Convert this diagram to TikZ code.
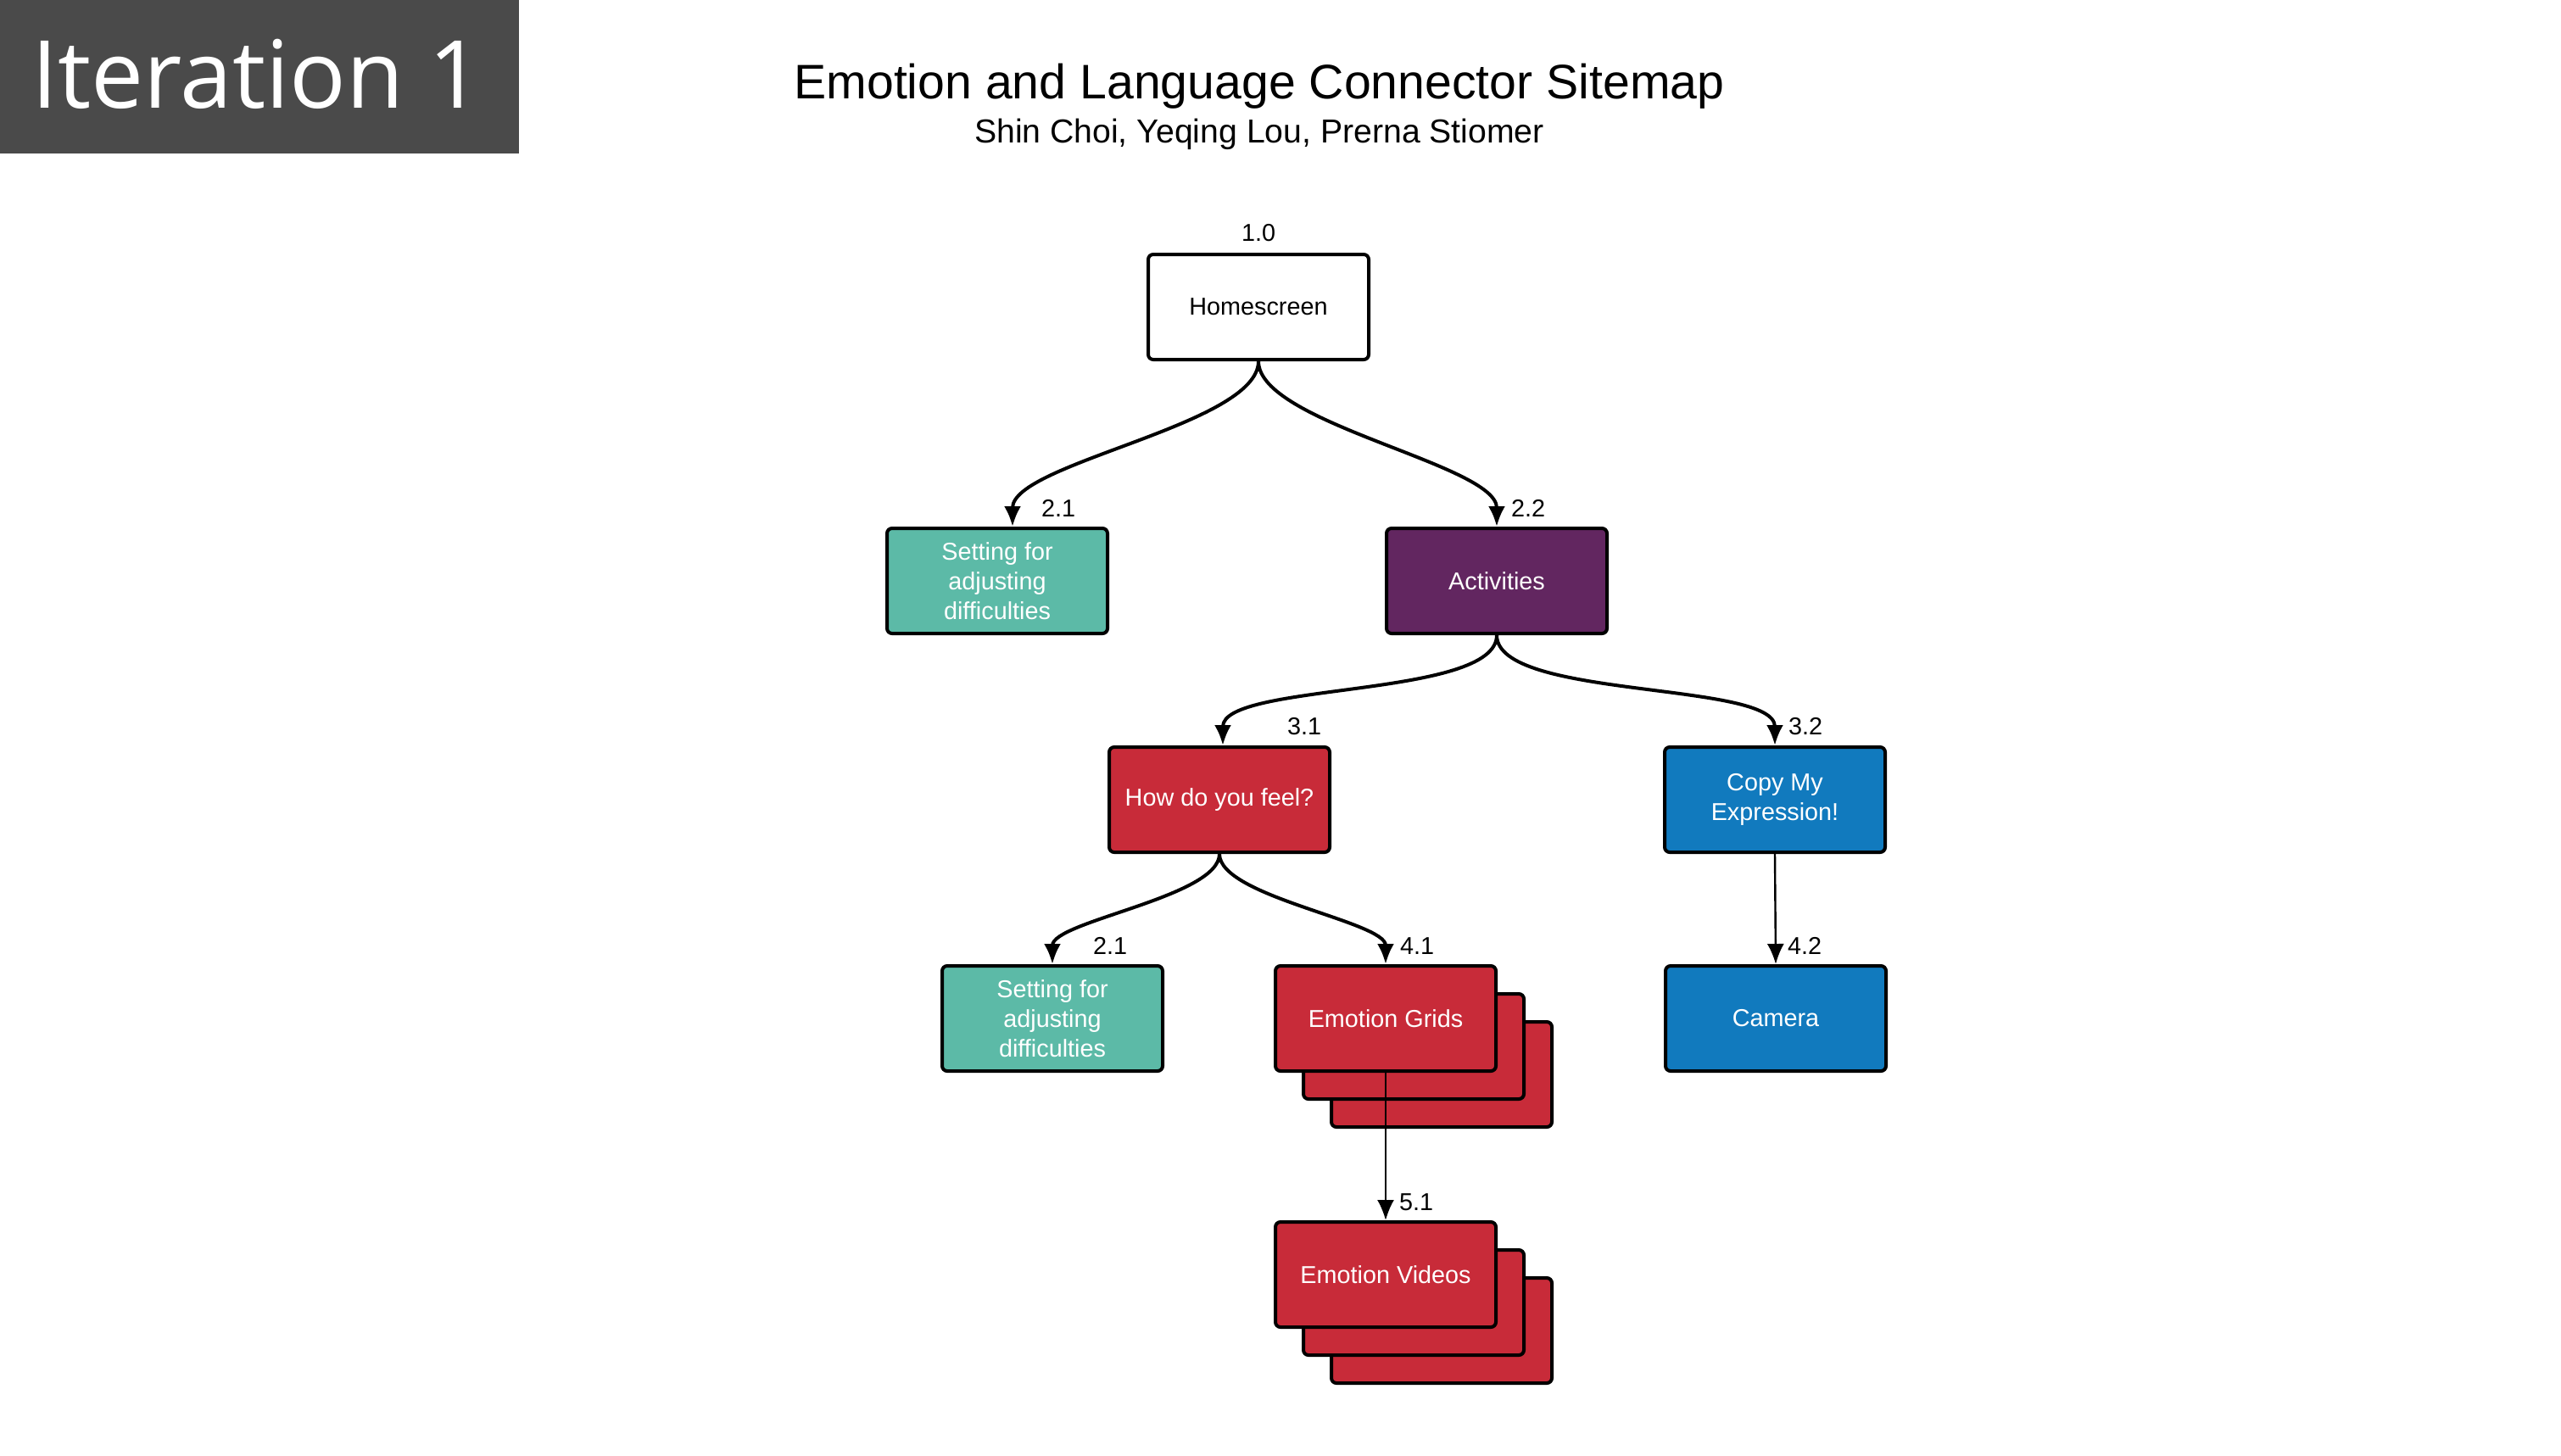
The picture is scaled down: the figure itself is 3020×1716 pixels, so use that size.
\documentclass[tikz,border=0pt]{standalone}
\usepackage{fontspec}
\setmainfont{Liberation Sans}
\newfontfamily\iterfont{Open Sans}
\usetikzlibrary{arrows.meta}

\definecolor{tealbox}{RGB}{92,186,167}
\definecolor{purplebox}{RGB}{98,38,96}
\definecolor{redbox}{RGB}{200,43,57}
\definecolor{bluebox}{RGB}{17,122,190}
\definecolor{darkgrey}{RGB}{74,74,74}

\tikzset{
  box/.style={draw=black, line width=1pt, rounded corners=1.5pt,
    minimum width=65pt, minimum height=31pt, inner sep=1pt,
    align=center, font=\fontsize{7.2}{8.7}\selectfont},
  num/.style={font=\fontsize{7.2}{8.7}\selectfont, inner sep=0pt},
  link/.style={line width=1pt, -{Latex[length=6pt,width=5pt]}},
  thinlink/.style={line width=0.6pt, -{Latex[length=6pt,width=5pt]}},
}

\begin{document}
\begin{tikzpicture}[x=0.25pt,y=0.25pt,yscale=-1]
\useasboundingbox (0,0) rectangle (3020,1716);

%Iteration tab
\fill[darkgrey] (0,0) rectangle (612,181);
\node[text=white, anchor=base, font=\iterfont\fontsize{27.7}{30}\selectfont] (iter) at (303,127) {Iteration 1};

%Title
\node[anchor=base, font=\fontsize{14.3}{17}\selectfont] (title) at (1485,116) {Emotion and Language Connector Sitemap};
\node[anchor=base, font=\fontsize{9.8}{12}\selectfont] (authors) at (1485,168) {Shin Choi, Yeqing Lou, Prerna Stiomer};

%Level 1
\node[box, fill=white] (home) at (1484,362) {Homescreen};
\node[num, anchor=south] at ([yshift=-3pt]home.north) {1.0};

%Level 2
\node[box, fill=tealbox, text=white] (setting1) at (1176,685) {Setting for\\adjusting\\difficulties};
\node[box, fill=purplebox, text=white] (activities) at (1765,685) {Activities};

%Level 3
\node[box, fill=redbox, text=white] (feel) at (1438,943) {How do you feel?};
\node[box, fill=bluebox, text=white] (copy) at (2093,943) {Copy My\\Expression!};

%Level 4
\node[box, fill=tealbox, text=white] (setting2) at (1241,1201) {Setting for\\adjusting\\difficulties};
\foreach \k in {2,1}
  \node[box, fill=redbox] at (1634+33*\k,1201+33*\k) {};
\node[box, fill=redbox, text=white] (grids) at (1634,1201) {Emotion Grids};
\node[box, fill=bluebox, text=white] (camera) at (2094,1201) {Camera};

%Level 5
\foreach \k in {2,1}
  \node[box, fill=redbox] at (1634+33*\k,1503+33*\k) {};
\node[box, fill=redbox, text=white] (videos) at (1634,1503) {Emotion Videos};

%Connectors
\draw[link] (home.south) to[out=90,in=-90,looseness=0.55] ([xshift=4.5pt]setting1.north)
  node[num, anchor=south west, xshift=8pt, yshift=2.5pt] {2.1};
\draw[link] (home.south) to[out=90,in=-90,looseness=0.55] (activities.north)
  node[num, anchor=south west, xshift=3.75pt, yshift=2.5pt] {2.2};
\draw[link] (activities.south) to[out=90,in=-90,looseness=0.55] ([xshift=1pt]feel.north)
  node[num, anchor=south west, xshift=18.5pt, yshift=2.5pt] {3.1};
\draw[link] (activities.south) to[out=90,in=-90,looseness=0.55] (copy.north)
  node[num, anchor=south west, xshift=3.5pt, yshift=2.5pt] {3.2};
\draw[link] (feel.south) to[out=90,in=-90,looseness=0.55] (setting2.north)
  node[num, anchor=south west, xshift=11.5pt, yshift=2.5pt] {2.1};
\draw[link] (feel.south) to[out=90,in=-90,looseness=0.55] (grids.north)
  node[num, anchor=south west, xshift=3.75pt, yshift=2.5pt] {4.1};
\draw[thinlink] (copy.south) -- (camera.north)
  node[num, anchor=south west, xshift=3.25pt, yshift=2.5pt] {4.2};
\draw[thinlink] (grids.south) -- (videos.north)
  node[num, anchor=south west, xshift=3.75pt, yshift=2.5pt] {5.1};

\end{tikzpicture}
\end{document}
